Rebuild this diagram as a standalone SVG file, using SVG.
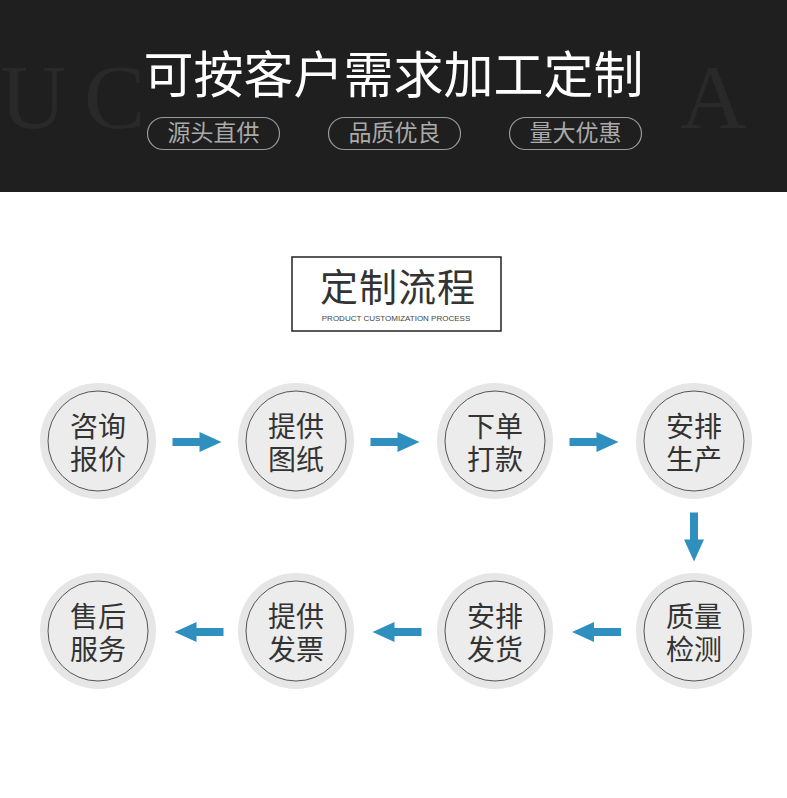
<svg xmlns="http://www.w3.org/2000/svg" width="787" height="798" viewBox="0 0 787 798">
<style>
.bgl{font-family:"Liberation Serif",serif;font-size:92px;fill:#292929}
.ttl{font-family:"Noto Sans CJK SC",sans-serif;font-size:50px;fill:#ffffff;text-anchor:middle}
.pill{fill:none;stroke:#9a9a9a;stroke-width:1.2}
.pt{font-family:"Noto Sans CJK SC",sans-serif;font-size:23px;fill:#aaaaaa;text-anchor:middle}
.h2{font-family:"Noto Sans CJK SC",sans-serif;font-size:38px;fill:#333333;text-anchor:middle;letter-spacing:1px}
.sub{font-family:"Liberation Sans",sans-serif;font-size:8px;fill:#444444;text-anchor:middle}
.co{fill:#e6e6e6}
.ci{fill:#ececec;stroke:#555555;stroke-width:1}
.nt{font-family:"Liberation Sans","Noto Sans CJK SC",sans-serif;font-size:28px;fill:#333333;text-anchor:middle}
.arr{fill:#2f90c0}
</style>
<defs>
<path id="ar" d="M-25,-4 H2 V-10 L24,0 L2,10 V4 H-25 Z"/>
</defs>
<rect width="787" height="798" fill="#ffffff"/>
<g id="header">
<rect x="0" y="0" width="787" height="192" fill="#1f1f1f"/>
<text class="bgl" x="0" y="128">U</text>
<text class="bgl" x="84" y="128">C</text>
<text class="bgl" x="680" y="128">A</text>
<text class="ttl" x="393.5" y="93">可按客户需求加工定制</text>
<rect class="pill" x="147.5" y="117.5" width="132" height="32" rx="16"/>
<text class="pt" x="213.5" y="141">源头直供</text>
<rect class="pill" x="328.5" y="117.5" width="132" height="32" rx="16"/>
<text class="pt" x="394.5" y="141">品质优良</text>
<rect class="pill" x="509.5" y="117.5" width="132" height="32" rx="16"/>
<text class="pt" x="575.5" y="141">量大优惠</text>
</g>
<g id="title">
<rect x="292" y="257" width="209" height="74" fill="none" stroke="#222222" stroke-width="1.5"/>
<text class="h2" x="398" y="301">定制流程</text>
<text class="sub" x="396" y="321">PRODUCT CUSTOMIZATION PROCESS</text>
</g>
<g id="connectors">
<use href="#ar" class="arr" transform="translate(197.5,442)"/>
<use href="#ar" class="arr" transform="translate(395.5,442)"/>
<use href="#ar" class="arr" transform="translate(594.5,442)"/>
<use href="#ar" class="arr" transform="translate(694,537.5) rotate(90)"/>
<use href="#ar" class="arr" transform="translate(596,632) rotate(180)"/>
<use href="#ar" class="arr" transform="translate(396.5,632) rotate(180)"/>
<use href="#ar" class="arr" transform="translate(198.5,632) rotate(180)"/>
</g>
<g id="n1"><circle class="co" cx="98" cy="441" r="58"/><circle class="ci" cx="98" cy="441" r="50"/><text class="nt" x="98" y="437">咨询</text><text class="nt" x="98" y="470">报价</text></g>
<g id="n2"><circle class="co" cx="296" cy="441" r="58"/><circle class="ci" cx="296" cy="441" r="50"/><text class="nt" x="296" y="437">提供</text><text class="nt" x="296" y="470">图纸</text></g>
<g id="n3"><circle class="co" cx="495" cy="441" r="58"/><circle class="ci" cx="495" cy="441" r="50"/><text class="nt" x="495" y="437">下单</text><text class="nt" x="495" y="470">打款</text></g>
<g id="n4"><circle class="co" cx="694" cy="441" r="58"/><circle class="ci" cx="694" cy="441" r="50"/><text class="nt" x="694" y="437">安排</text><text class="nt" x="694" y="470">生产</text></g>
<g id="n5"><circle class="co" cx="694" cy="631" r="58"/><circle class="ci" cx="694" cy="631" r="50"/><text class="nt" x="694" y="627">质量</text><text class="nt" x="694" y="660">检测</text></g>
<g id="n6"><circle class="co" cx="495" cy="631" r="58"/><circle class="ci" cx="495" cy="631" r="50"/><text class="nt" x="495" y="627">安排</text><text class="nt" x="495" y="660">发货</text></g>
<g id="n7"><circle class="co" cx="296" cy="631" r="58"/><circle class="ci" cx="296" cy="631" r="50"/><text class="nt" x="296" y="627">提供</text><text class="nt" x="296" y="660">发票</text></g>
<g id="n8"><circle class="co" cx="98" cy="631" r="58"/><circle class="ci" cx="98" cy="631" r="50"/><text class="nt" x="98" y="627">售后</text><text class="nt" x="98" y="660">服务</text></g>
</svg>
